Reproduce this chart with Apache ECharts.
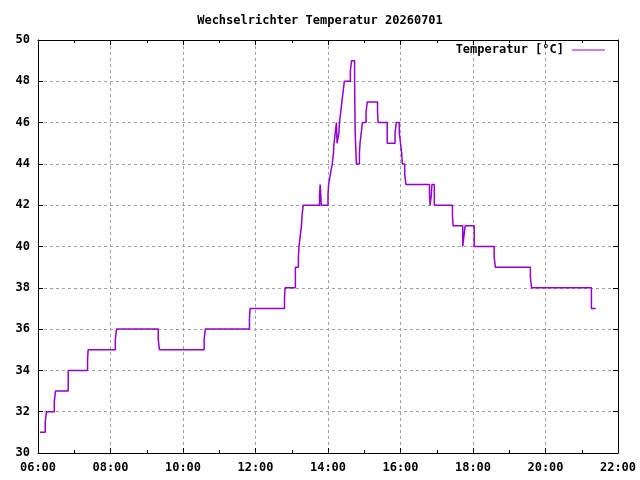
<!DOCTYPE html>
<html>
<head>
<meta charset="utf-8">
<script src="https://cdn.jsdelivr.net/npm/echarts@6/dist/echarts.min.js"></script>
<style>html,body{margin:0;padding:0;background:#fff}#c{width:640px;height:480px}</style>
</head>
<body>
<div id="c"></div>
<script>
const titleText = 'Wechselrichter Temperatur 20260701';
const seriesName = 'Temperatur [°C]';
const times = ['06:03','06:12','06:14','06:27','06:29','06:50','07:22','07:23','08:08','08:10',
  '09:19','09:21','10:35','10:37','11:50','11:51','12:48','12:49','13:06','13:11',
  '13:12','13:14','13:16','13:17','13:19','13:46','13:47','13:49','14:00','14:01',
  '14:04','14:07','14:09','14:10','14:12','14:14','14:15','14:18','14:19','14:21',
  '14:23','14:25','14:27','14:37','14:39','14:44','14:45','14:47','14:52','14:53',
  '14:55','14:57','15:03','15:05','15:22','15:23','15:38','15:51','15:53','15:58',
  '16:00','16:02','16:03','16:07','16:09','16:48','16:49','16:51','16:52','16:56',
  '17:26','17:27','17:43','17:45','17:47','18:02','18:35','18:37','19:35','19:37',
  '21:16','21:23'];
const temps = [31,31.5,32,32.5,33,34,34.5,35,35.5,36,
  35.5,35,35.5,36,36.5,37,37.5,38,39,39.5,
  40,40.5,41,41.5,42,42.5,43,42,42.5,43,
  43.5,44,44.5,45,45.5,46,45,45.5,46,46.5,
  47,47.5,48,48.5,49,48,45.5,44,44.5,45,
  45.5,46,46.5,47,46.5,46,45,45.5,46,45.5,
  45,44.5,44,43.5,43,42.5,42,42.5,43,42,
  41.5,41,40,40.5,41,40,39.5,39,38.5,38,
  37,37];
const xMin = '06:00', xMax = '22:00';
const yMin = 30, yMax = 50;

function toMin(s){ const p = s.split(':'); return (+p[0])*60 + (+p[1]); }
function fmt(m){ const h = Math.floor(m/60), mm = m%60; return String(h).padStart(2,'0')+':'+String(mm).padStart(2,'0'); }

const data = times.map((t,i)=>[toMin(t), temps[i]]);
const font = {fontFamily:'DejaVu Sans Mono', fontWeight:'bold', fontSize:12, color:'#000'};
const grid = {show:true, lineStyle:{color:'#a0a0a0', type:[3,3], width:1}};
const axLine = {show:true, lineStyle:{color:'#000', width:1}};

const chart = echarts.init(document.getElementById('c'), null, {renderer:'canvas'});
chart.setOption({
  animation:false,
  backgroundColor:'#fff',
  title:{text:titleText, left:'center', top:15, textStyle:font, padding:0},
  legend:{data:[seriesName], right:35, top:44, align:'right', icon:'rect', itemWidth:33, itemHeight:1,
    itemGap:0, textStyle:Object.assign({}, font, {padding:[0,3,0,0]}), padding:0},
  grid:{left:38, right:22, top:40, bottom:27, containLabel:false},
  xAxis:[{type:'value', min:toMin(xMin), max:toMin(xMax), interval:120,
      axisLine:axLine, axisTick:{show:true, inside:true, length:5, lineStyle:{color:'#000'}},
      minorTick:{show:true, splitNumber:2, length:3, lineStyle:{color:'#000'}},
      axisLabel:Object.assign({}, font, {margin:9, formatter:v=>fmt(v)}),
      splitLine:grid},
    {type:'value', position:'top', min:toMin(xMin), max:toMin(xMax), interval:120,
      axisLine:axLine, axisTick:{show:true, inside:true, length:5, lineStyle:{color:'#000'}},
      minorTick:{show:true, splitNumber:2, length:3, lineStyle:{color:'#000'}},
      axisLabel:{show:false}, splitLine:{show:false}}],
  yAxis:[{type:'value', min:yMin, max:yMax, interval:2,
      axisLine:axLine, axisTick:{show:true, inside:true, length:5, lineStyle:{color:'#000'}},
      axisLabel:Object.assign({}, font, {margin:8}),
      splitLine:grid},
    {type:'value', position:'right', min:yMin, max:yMax, interval:2,
      axisLine:axLine, axisTick:{show:true, inside:true, length:5, lineStyle:{color:'#000'}},
      axisLabel:{show:false}, splitLine:{show:false}}],
  series:[{name:seriesName, type:'line', step:'end', data:data, showSymbol:false, symbol:'none',
    color:'#9400d3', lineStyle:{color:'#9400d3', width:1.5}, xAxisIndex:0, yAxisIndex:0}]
});
</script>
</body>
</html>
